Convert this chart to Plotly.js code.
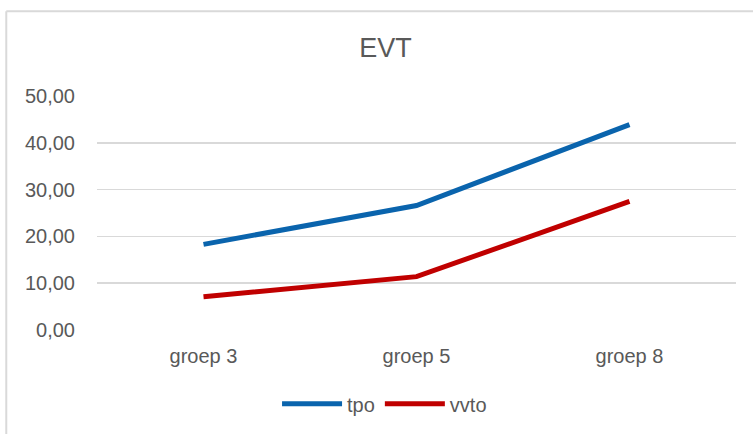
<!DOCTYPE html>
<html>
<head>
<meta charset="utf-8">
<script src="https://cdn.plot.ly/plotly-3.0.1.min.js"></script>
<style>
  body { margin: 0; background: #fff; }
  #chart { width: 753px; height: 434px; }
</style>
</head>
<body>
<div id="chart"></div>
<script>
var groepen = ["groep 3", "groep 5", "groep 8"];
var tpo = [18.3, 26.6, 43.9];
var vvto = [7.1, 11.4, 27.5];
var yTicks = [0, 10, 20, 30, 40, 50];
var yTickText = ["0,00", "10,00", "20,00", "30,00", "40,00", "50,00"];

var grey = "#595959";

var data = [
  {
    x: groepen, y: tpo, name: "tpo", type: "scatter", mode: "lines",
    line: { color: "#0a64ad", width: 5 }
  },
  {
    x: groepen, y: vvto, name: "vvto", type: "scatter", mode: "lines",
    line: { color: "#c00000", width: 5 }
  }
];

var layout = {
  width: 753,
  height: 434,
  margin: { l: 97, r: 17, t: 96, b: 103 },
  paper_bgcolor: "#fff",
  plot_bgcolor: "#fff",
  font: { family: "Liberation Sans, Arial, sans-serif", color: grey, size: 20 },
  title: { text: "EVT", font: { size: 27, color: grey }, x: 0.512, xanchor: "center", y: 0.89, yanchor: "middle" },
  xaxis: {
    type: "category",
    range: [-0.5, 2.5],
    showgrid: false,
    zeroline: false,
    showline: false,
    ticks: "",
    ticklabelstandoff: 12,
    tickfont: { size: 20 },
    fixedrange: true
  },
  yaxis: {
    range: [0, 50],
    tickvals: yTicks,
    ticktext: yTickText,
    showgrid: true,
    gridcolor: "#d9d9d9",
    gridwidth: 1.5,
    zeroline: false,
    showline: false,
    ticks: "",
    ticklabelstandoff: 21,
    tickfont: { size: 20 },
    fixedrange: true
  },
  showlegend: true,
  legend: {
    orientation: "h",
    x: 0.45, xanchor: "center",
    y: -0.31, yanchor: "middle",
    font: { size: 20 },
    itemwidth: 60,
    tracegroupgap: 0,
    bgcolor: "rgba(0,0,0,0)"
  },
  shapes: [
    { type: "line", xref: "paper", yref: "paper", x0: -0.142, x1: -0.142, y0: -0.5, y1: 1.362, line: { color: "#d9d9d9", width: 2 } },
    { type: "line", xref: "paper", yref: "paper", x0: -0.142, x1: 1.2, y0: 1.362, y1: 1.362, line: { color: "#d9d9d9", width: 2 } }
  ]
};

Plotly.newPlot("chart", data, layout, { displayModeBar: false, staticPlot: true });
</script>
</body>
</html>
